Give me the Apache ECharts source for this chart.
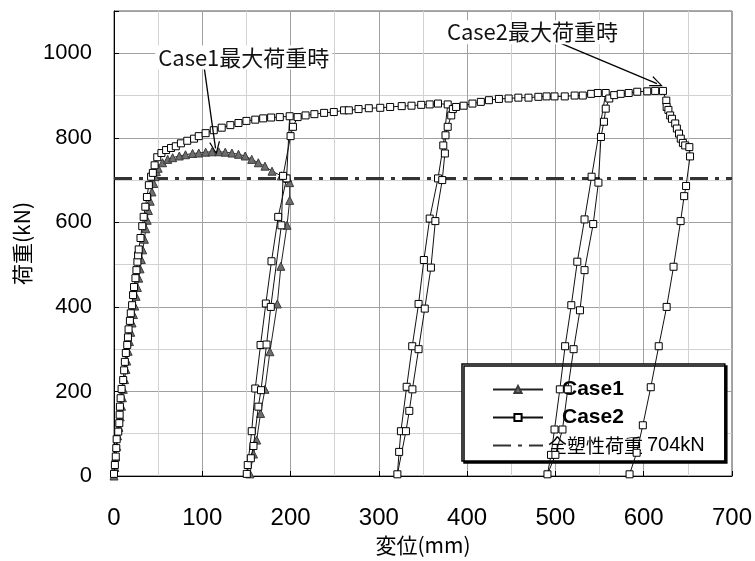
<!DOCTYPE html>
<html><head><meta charset="utf-8">
<script src="https://cdn.jsdelivr.net/npm/echarts@6/dist/echarts.min.js"></script>
<style>html,body{margin:0;padding:0;background:#fff}#c{width:755px;height:561px}</style>
</head><body><div id="c"></div>
<script>
// ---- data (displacement mm, load kN) ----
const case1Disp = [0,1,2,3,4,5.5,7,8.5,9.5,10.5,12,13.5,14.5,16,17.5,19,20.5,22,23.5,25,26.5,28,29.5,31,32.5,34.5,36,37.6,39,41,43,45,46.5,48,50,55,60.8,66.4,74,81,89,96,103.8,111,118.6,126,133.6,141,148.6,156,163.5,171,179,189.6,197,199,199,196,189,185,176.6,171,166,161.6,158,154];
const case1Load = [0,20,45,70,95,115,140,165,185,205,228,252,272,295,318,340,362,382,402,425,446,468,490,512,535,560,585,605,628,650,672,692,708,720,728,741,749,753,757,760,763,764,766,767,767,766,764,761,757,749,741,733,721,710,704,694,652,593,496,407,294,205,148,85,52,5];
const case2Disp = [0,1,2,2.6,3,4.8,6,6.4,6.7,7.5,8.6,10.4,11.5,12.3,13.4,15,15.8,16.5,18,19,20.5,21.6,22.7,24.3,25.4,26.5,27.3,28,30,32,33.6,35.5,37.3,39.5,42,44,46,49,53.7,59,64.6,70,75.8,83,90.7,96,103.8,113,122,131.8,141,150,160,169,178,187.8,199,
  195.5,186,178.4,172,166,160,156,151.5,150.4,
  155,158,163.5,166.5,172.8,177.6,189.6,191.5,200,202.7,208,
  217,227,238,249,260.6,266,277,288.6,301.6,312.8,325.9,337,348,357.6,367,378,
  373,367,357.6,351,345,337.8,331.5,325,323,321,
  330.7,334.5,338,345,352,359,364,371.8,374.8,375.5,378,382,383.8,387.5,396,406,415.5,424.7,436,447,458,469.5,480.7,490,499,510.6,521.8,531,540.5,548,557,
  541,533,524.8,518,511,505,499,495,491,
  500,508,514,520.6,527.8,533,542.8,548.7,551.6,555,557,561,566.6,574,583,592.7,604,613,621.8,
  625.6,626,628,630,632,635.7,637.6,640,642,644.4,647,651.7,652.5,
  648,645.8,641.8,633.8,626,617,608,599,592,584];
const case2Load = [5,26,46,66,87,105,125,145,164,184,206,227,250,270,291,310,328,347,367,385,404,428,447,468,487,507,522,536,563,591,613,637,660,688,708,717,735,754,764,771,776,780,787,793,798,804,811,818,824,830,835,840,843,846,848,849,851,
  704,613,508,408,310,207,106,26,5,
  42,71,164,203,311,400,593,710,804,826,849,
  853,856,859,861,865,865,868,870,871,873,875,876,878,879,881,879,
  782,704,609,511,407,307,211,106,57,4,
  106,154,205,300,396,493,603,700,763,806,826,853,868,873,876,881,885,889,892,893,895,895,897,898,898,898,900,900,904,906,906,
  708,607,507,404,307,205,110,50,4,
  50,110,205,300,392,487,596,694,802,838,869,893,901,904,906,909,910,911,911,
  888,873,866,853,845,834,822,810,798,788,782,778,756,
  686,662,603,495,400,307,210,120,55,4];
const plasticLoad = 704;
const xRange = [0, 700];
const yRange = [0, 1100];
const seriesNames = ['Case1', 'Case2', '全塑性荷重 704kN'];
const annot1 = {text: 'Case1最大荷重時', at: [147, 990], from: [102, 969], to: [115, 775]};
const annot2 = {text: 'Case2最大荷重時', at: [474, 1050], from: [507, 1023], to: [615, 928]};

const zip = (xs, ys) => xs.map((x, i) => [x, ys[i]]);
const chart = echarts.init(document.getElementById('c'), null, {renderer: 'canvas'});
const cjk = '"Noto Sans CJK JP", "Noto Sans", sans-serif';
const narrow = '"Liberation Sans Narrow", "Liberation Sans", sans-serif';
const arrowHead = 'path://M5,0 L10,14 L8.8,14 L5,3.2 L1.2,14 L0,14 Z';

function annotLine(a) {
  return [{coord: a.from, symbol: 'none'}, {coord: a.to, symbol: arrowHead, symbolSize: [11, 13]}];
}

chart.setOption({
  animation: false,
  backgroundColor: '#fff',
  grid: {left: 114, right: 15, top: 11, bottom: 85, show: true, borderColor: '#555', borderWidth: 1},
  xAxis: {
    type: 'value', min: xRange[0], max: xRange[1], interval: 100,
    name: '変位(mm)', nameLocation: 'middle', nameGap: 54,
    nameTextStyle: {fontFamily: cjk, fontSize: 21, color: '#000'},
    axisLine: {show: true, onZero: false, lineStyle: {color: '#000', width: 1}},
    axisTick: {show: true, inside: true, length: 5, lineStyle: {color: '#000'}},
    axisLabel: {margin: 30, fontFamily: narrow, fontSize: 24, color: '#000'},
    splitLine: {show: true, lineStyle: {color: '#a0a0a0', width: 1}},
    minorTick: {show: false, splitNumber: 2},
    minorSplitLine: {show: true, lineStyle: {color: '#d2d2d2', width: 1}}
  },
  yAxis: {
    type: 'value', min: yRange[0], max: yRange[1], interval: 200,
    name: '荷重(kN)', nameLocation: 'middle', nameGap: 80, nameRotate: 90,
    nameTextStyle: {fontFamily: cjk, fontSize: 21, color: '#000'},
    axisLine: {show: true, onZero: false, lineStyle: {color: '#000', width: 1}},
    axisTick: {show: true, inside: true, length: 5, lineStyle: {color: '#000'}},
    axisLabel: {margin: 22, fontFamily: '"Liberation Sans", Arial, sans-serif', fontSize: 22, color: '#000',
      formatter: v => (v <= 1000 ? String(v) : '')},
    splitLine: {show: true, lineStyle: {color: '#a0a0a0', width: 1}},
    minorTick: {show: false, splitNumber: 2},
    minorSplitLine: {show: true, lineStyle: {color: '#d2d2d2', width: 1}}
  },
  legend: {
    orient: 'vertical', left: 462, top: 364,
    data: [
      {name: seriesNames[0]},
      {name: seriesNames[1]},
      {name: seriesNames[2], itemStyle: {opacity: 0}}
    ],
    itemWidth: 50, itemHeight: 9, itemGap: 7,
    padding: [15, 20, 5, 30],
    backgroundColor: '#fff', borderColor: '#000', borderWidth: 1.5,
    shadowColor: '#000', shadowOffsetX: 2, shadowOffsetY: 2, shadowBlur: 0,
    textStyle: {color: '#000', fontSize: 19, lineHeight: 21,
      rich: {
        c: {fontFamily: narrow, fontWeight: 'bold', fontSize: 21, lineHeight: 21, color: '#000', padding: [0, 0, 0, 14], width: 60},
        k: {fontFamily: cjk, fontSize: 19, lineHeight: 21, color: '#000', width: 99},
        n: {fontFamily: narrow, fontSize: 20, lineHeight: 21, color: '#000', width: 54}
      }},
    formatter: name => name.startsWith('Case') ? '{c|' + name + '}' : '{k|全塑性荷重}{n|704kN}'
  },
  series: [
    {
      name: seriesNames[0], type: 'line', data: zip(case1Disp, case1Load), z: 3,
      symbol: 'triangle', symbolSize: 8, showAllSymbol: true,
      lineStyle: {color: '#222', width: 1},
      itemStyle: {color: '#6e6e6e', borderColor: '#3a3a3a', borderWidth: 1}
    },
    {
      name: seriesNames[1], type: 'line', data: zip(case2Disp, case2Load), z: 4,
      symbol: 'rect', symbolSize: 7, showAllSymbol: true,
      lineStyle: {color: '#111', width: 1},
      itemStyle: {color: '#fff', borderColor: '#000', borderWidth: 1}
    },
    {
      name: seriesNames[2], type: 'line', data: [[xRange[0], plasticLoad], [xRange[1], plasticLoad]], z: 2,
      symbol: 'none',
      lineStyle: {color: '#333', width: 3, type: [18, 7, 4, 7]},
      itemStyle: {color: '#333'},
      markLine: {
        silent: true, animation: false,
        lineStyle: {color: '#000', width: 1.3, type: 'solid'},
        label: {show: false},
        data: [annotLine(annot1), annotLine(annot2)]
      },
      markPoint: {
        silent: true, symbol: 'rect', symbolSize: 1, itemStyle: {color: 'rgba(0,0,0,0)'},
        label: {show: true, position: 'inside', formatter: '{b}', fontFamily: cjk, fontSize: 22, color: '#111',
          backgroundColor: '#fff', padding: [1, 3]},
        data: [{name: annot1.text, coord: annot1.at}, {name: annot2.text, coord: annot2.at}]
      }
    }
  ]
});
</script></body></html>
